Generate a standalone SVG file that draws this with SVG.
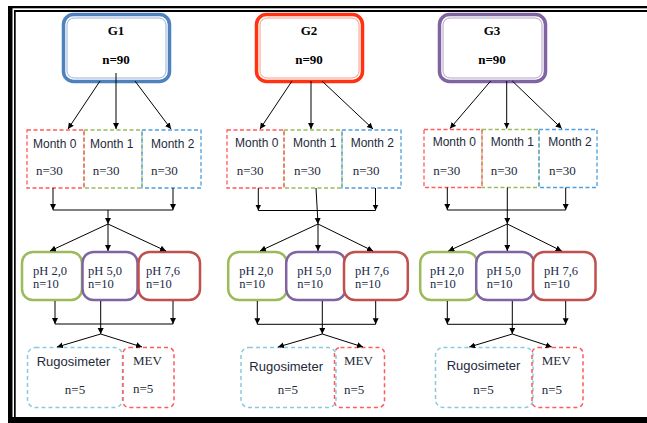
<svg xmlns="http://www.w3.org/2000/svg" width="647" height="423" viewBox="0 0 647 423">
<style>
.gt{font-family:"Liberation Serif",serif;font-weight:bold;font-size:13px;fill:#000;text-anchor:middle}
.mt{font-family:"Liberation Sans",sans-serif;font-size:12px;fill:#1e2a3a}
.nt{font-family:"Liberation Serif",serif;font-size:13px;fill:#1e2a3a}
.pt{font-family:"Liberation Serif",serif;font-size:12.5px;fill:#1b2a4a}
.rt{font-family:"Liberation Sans",sans-serif;font-size:13px;fill:#1e2a3a}
.m0{fill:none;stroke:#ff5b5b;stroke-width:1.3;stroke-dasharray:4 2.5}
.m1{fill:none;stroke:#9bbb59;stroke-width:1.3;stroke-dasharray:4 2.5}
.m2{fill:none;stroke:#4e9fe0;stroke-width:1.3;stroke-dasharray:4 2.5}
.pg{fill:#fff;stroke:#9bbb59;stroke-width:2.5}
.pp{fill:#fff;stroke:#8064a2;stroke-width:2.5}
.pr{fill:#fff;stroke:#c0504d;stroke-width:2.5}
.rg{fill:none;stroke:#86cbe0;stroke-width:1.5;stroke-dasharray:4 3}
.mv{fill:none;stroke:#ff5b5b;stroke-width:1.5;stroke-dasharray:4 3}
.c line,.c path{stroke:#000;stroke-width:1;fill:none}
.a{marker-end:url(#ah)}
</style>
<defs>
<marker id="ah" markerUnits="userSpaceOnUse" markerWidth="7" markerHeight="7" refX="6" refY="3" orient="auto">
<path d="M0,0 L6,3 L0,6 z" fill="#000"/>
</marker>
</defs>
<rect width="647" height="423" fill="#fff"/>
<g id="frame" fill="#000">
<rect x="8" y="6" width="4.5" height="417"/>
<rect x="8" y="6" width="639" height="2.3"/>
<rect x="14" y="10" width="1.7" height="413"/>
<rect x="14" y="10" width="633" height="2"/>
<rect x="8" y="417" width="639" height="6"/>
</g>

<g id="G1">
<rect x="63.5" y="14.5" width="106" height="67" rx="10" fill="#fff" stroke="#4f81bd" stroke-width="3.5"/>
<rect x="67" y="18" width="99" height="60" rx="7" fill="none" stroke="#95b3d7" stroke-width="1"/>
<text class="gt" x="116" y="35">G1</text>
<text class="gt" x="116" y="64">n=90</text>
</g>
<g id="G2">
<rect x="256.5" y="14.5" width="106" height="67" rx="10" fill="#fff" stroke="#ff3311" stroke-width="3.5"/>
<rect x="260" y="18" width="99" height="60" rx="7" fill="none" stroke="#ff9a85" stroke-width="1"/>
<text class="gt" x="309" y="35">G2</text>
<text class="gt" x="309" y="64">n=90</text>
</g>
<g id="G3">
<rect x="439.5" y="14.5" width="106" height="67" rx="10" fill="#fff" stroke="#8064a2" stroke-width="3.5"/>
<rect x="443" y="18" width="99" height="60" rx="7" fill="none" stroke="#b3a2c7" stroke-width="1"/>
<text class="gt" x="492" y="35">G3</text>
<text class="gt" x="492" y="64">n=90</text>
</g>

<g id="G1-month1"><rect class="m1" x="84" y="130" width="58" height="58"/><text class="mt" x="90" y="148">Month 1</text><text class="nt" x="92.7" y="175">n=30</text></g>
<g id="G1-month0"><rect class="m0" x="27" y="130" width="57" height="58"/><text class="mt" x="33" y="148">Month 0</text><text class="nt" x="36" y="175">n=30</text></g>
<g id="G1-month2"><rect class="m2" x="142" y="130" width="59" height="58"/><text class="mt" x="151" y="148">Month 2</text><text class="nt" x="151" y="175">n=30</text></g>

<g id="G2-month1"><rect class="m1" x="284" y="130" width="58" height="58"/><text class="mt" x="293" y="147">Month 1</text><text class="nt" x="294" y="174.5">n=30</text></g>
<g id="G2-month0"><rect class="m0" x="227" y="130" width="57" height="58"/><text class="mt" x="235" y="147">Month 0</text><text class="nt" x="236.7" y="174.5">n=30</text></g>
<g id="G2-month2"><rect class="m2" x="342" y="130" width="59" height="58"/><text class="mt" x="350.7" y="147">Month 2</text><text class="nt" x="352.7" y="174.5">n=30</text></g>

<g id="G3-month1"><rect class="m1" x="482" y="129.5" width="57" height="58"/><text class="mt" x="490.7" y="145.5">Month 1</text><text class="nt" x="490.7" y="174.5">n=30</text></g>
<g id="G3-month0"><rect class="m0" x="424" y="129.5" width="58" height="58"/><text class="mt" x="432.7" y="145.5">Month 0</text><text class="nt" x="433.3" y="174.5">n=30</text></g>
<g id="G3-month2"><rect class="m2" x="539" y="129.5" width="58" height="58"/><text class="mt" x="548.3" y="145.5">Month 2</text><text class="nt" x="549" y="174.5">n=30</text></g>

<g id="G1-ph20"><rect class="pg" x="22" y="252" width="60" height="48" rx="11"/><text class="pt" x="33" y="275">pH 2,0</text><text class="pt" x="33" y="288">n=10</text></g>
<g id="G1-ph50"><rect class="pp" x="82.5" y="252" width="55" height="48" rx="11"/><text class="pt" x="88" y="275">pH 5,0</text><text class="pt" x="88" y="288">n=10</text></g>
<g id="G1-ph76"><rect class="pr" x="138.5" y="252" width="61.5" height="48" rx="11"/><text class="pt" x="146" y="275">pH 7,6</text><text class="pt" x="146" y="288">n=10</text></g>

<g id="G2-ph20"><rect class="pg" x="228.2" y="252" width="58.6" height="48" rx="11"/><text class="pt" x="239.3" y="274.5">pH 2,0</text><text class="pt" x="239.3" y="288">n=10</text></g>
<g id="G2-ph50"><rect class="pp" x="286.2" y="252" width="59.2" height="48" rx="11"/><text class="pt" x="297.3" y="274.5">pH 5,0</text><text class="pt" x="297.3" y="288">n=10</text></g>
<g id="G2-ph76"><rect class="pr" x="344" y="252" width="63.8" height="48" rx="11"/><text class="pt" x="355" y="274.5">pH 7,6</text><text class="pt" x="355" y="288">n=10</text></g>

<g id="G3-ph20"><rect class="pg" x="420.2" y="252" width="57" height="48" rx="11"/><text class="pt" x="430" y="274.5">pH 2,0</text><text class="pt" x="430" y="288">n=10</text></g>
<g id="G3-ph50"><rect class="pp" x="476.2" y="252" width="57.6" height="48" rx="11"/><text class="pt" x="486.7" y="274.5">pH 5,0</text><text class="pt" x="486.7" y="288">n=10</text></g>
<g id="G3-ph76"><rect class="pr" x="533" y="252" width="62.5" height="48" rx="11"/><text class="pt" x="544" y="274.5">pH 7,6</text><text class="pt" x="544" y="288">n=10</text></g>

<g id="G1-rugosimeter"><rect class="rg" x="27.5" y="347.5" width="95" height="60" rx="8"/><text class="rt" x="36.7" y="366">Rugosimeter</text><text class="nt" x="75" y="394" text-anchor="middle">n=5</text></g>
<g id="G1-mev"><rect class="mv" x="123" y="347.5" width="51" height="60" rx="6"/><text class="nt" x="133" y="365">MEV</text><text class="nt" x="133" y="393">n=5</text></g>

<g id="G2-rugosimeter"><rect class="rg" x="241" y="347.5" width="95" height="60" rx="8"/><text class="rt" x="249.3" y="370.5">Rugosimeter</text><text class="nt" x="287.8" y="394" text-anchor="middle">n=5</text></g>
<g id="G2-mev"><rect class="mv" x="334.5" y="347.5" width="50" height="60" rx="6"/><text class="nt" x="344" y="365">MEV</text><text class="nt" x="344" y="394">n=5</text></g>

<g id="G3-rugosimeter"><rect class="rg" x="435.5" y="347.5" width="97.5" height="60" rx="8"/><text class="rt" x="446.7" y="370">Rugosimeter</text><text class="nt" x="483.5" y="394" text-anchor="middle">n=5</text></g>
<g id="G3-mev"><rect class="mv" x="532" y="347.5" width="51" height="60" rx="6"/><text class="nt" x="541.7" y="365">MEV</text><text class="nt" x="541.7" y="394">n=5</text></g>

<g id="connectors" class="c">
<line class="a" x1="100" y1="81" x2="68" y2="129"/>
<line class="a" x1="116" y1="73" x2="116" y2="129"/>
<line class="a" x1="135" y1="81" x2="171" y2="129"/>
<line class="a" x1="53" y1="188" x2="53" y2="210"/>
<line class="a" x1="173" y1="188" x2="173" y2="210"/>
<line x1="53" y1="210" x2="173" y2="210"/>
<line class="a" x1="108" y1="210" x2="108" y2="224"/>
<line class="a" x1="108" y1="224" x2="50" y2="251"/>
<line class="a" x1="108" y1="224" x2="108" y2="251"/>
<line class="a" x1="108" y1="224" x2="166" y2="251"/>
<line class="a" x1="55" y1="301" x2="55" y2="324"/>
<line class="a" x1="173" y1="301" x2="173" y2="324"/>
<line x1="55" y1="324" x2="173" y2="324"/>
<line class="a" x1="100.7" y1="301" x2="100.7" y2="334"/>
<line class="a" x1="100.7" y1="334" x2="57" y2="347"/>
<line class="a" x1="100.7" y1="334" x2="142" y2="347"/>

<line class="a" x1="292" y1="81" x2="260" y2="129"/>
<line class="a" x1="311" y1="81" x2="311" y2="129"/>
<line class="a" x1="322" y1="81" x2="373" y2="129"/>
<line class="a" x1="258.3" y1="188" x2="258.3" y2="210.5"/>
<line class="a" x1="375.5" y1="188" x2="375.5" y2="210.5"/>
<line x1="258.3" y1="210.5" x2="375.5" y2="210.5"/>
<line class="a" x1="316" y1="188" x2="318" y2="224"/>
<line class="a" x1="318" y1="224" x2="260" y2="251"/>
<line class="a" x1="318" y1="224" x2="318" y2="251"/>
<line class="a" x1="318" y1="224" x2="373" y2="251"/>
<line class="a" x1="257.3" y1="301" x2="257.3" y2="324.3"/>
<line class="a" x1="375.7" y1="301" x2="375.7" y2="324.3"/>
<line x1="257.3" y1="324.3" x2="375.7" y2="324.3"/>
<line class="a" x1="322.3" y1="301" x2="322.3" y2="334"/>
<line class="a" x1="322.3" y1="334" x2="278" y2="347"/>
<line class="a" x1="322.3" y1="334" x2="363" y2="347"/>

<line class="a" x1="490.7" y1="81" x2="450" y2="128.5"/>
<line class="a" x1="506.7" y1="81" x2="506.7" y2="128.5"/>
<line class="a" x1="512.3" y1="81" x2="561.7" y2="128.5"/>
<line class="a" x1="447.3" y1="187.5" x2="447.3" y2="210"/>
<line class="a" x1="565.7" y1="187.5" x2="565.7" y2="210"/>
<line x1="447.3" y1="210" x2="565.7" y2="210"/>
<line class="a" x1="507.3" y1="187.5" x2="507.3" y2="224"/>
<line class="a" x1="507.3" y1="224" x2="448.3" y2="251"/>
<line class="a" x1="507.3" y1="224" x2="507.3" y2="251"/>
<line class="a" x1="507.3" y1="224" x2="561.7" y2="251"/>
<line class="a" x1="447.3" y1="301" x2="447.3" y2="324.3"/>
<line class="a" x1="565.7" y1="301" x2="565.7" y2="324.3"/>
<line x1="447.3" y1="324.3" x2="565.7" y2="324.3"/>
<line class="a" x1="512.3" y1="301" x2="512.3" y2="334"/>
<line class="a" x1="512.3" y1="334" x2="469.3" y2="347"/>
<line class="a" x1="512.3" y1="334" x2="551.7" y2="347"/>
</g>
</svg>
